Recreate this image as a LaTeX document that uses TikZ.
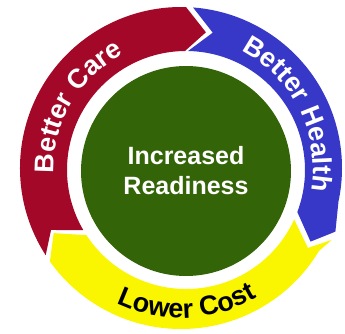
\documentclass[tikz,border=0pt]{standalone}
\usepackage{fontspec}
\setmainfont{Liberation Sans}
\usetikzlibrary{calc,decorations.text}
\definecolor{carered}{RGB}{163,8,40}
\definecolor{healthblue}{RGB}{55,55,200}
\definecolor{costyellow}{RGB}{250,245,0}
\definecolor{readygreen}{RGB}{52,100,8}
\newcommand\ringfont{\bfseries\fontsize{27}{27}\selectfont}

\begin{document}
\begin{tikzpicture}[x=1pt,y=1pt,
	arclabel/.style 2 args={decorate,decoration={text along path,text align=center,
		text color=#1,text={|\ringfont|#2}}}]
\useasboundingbox (0,0) rectangle (345,333);
\coordinate (O) at (181,165);
\coordinate (I) at (186,163);

	\fill[carered] ($(O)+(212.8:161)$) arc[start angle=212.8,end angle=88.2,radius=161]
		-- ($(O)+(79.6:138)$) -- ($(I)+(90.5:119)$)
		arc[start angle=90.5,end angle=210.3,radius=119]
		-- ($(O)+(205.5:144)$) -- cycle;

	\fill[healthblue] ($(O)+(85.7:161)$) arc[start angle=85.7,end angle=-12,radius=161]
		-- ($(O)+(-22.4:167)$) -- ($(O)+(-29.6:149)$) -- ($(I)+(-20.7:119)$)
		arc[start angle=-20.7,end angle=89,radius=119]
		-- ($(O)+(76.8:139)$) -- cycle;

	\fill[costyellow] ($(O)+(-25.5:167)$) -- ($(O)+(-31:161)$)
		arc[start angle=-31,end angle=-144.5,radius=161]
		-- ($(O)+(-152.9:143)$) -- ($(I)+(-146.8:119)$)
		arc[start angle=-146.8,end angle=-24.6,radius=119]
		-- ($(O)+(-32.2:150)$) -- cycle;

\node[circle,fill=readygreen,minimum size=210pt,inner sep=0pt,text=white,align=center,
	font=\bfseries\fontsize{25}{30}\selectfont] (ready) at (186,162) {Increased\\Readiness};

\path[arclabel={white}{Better Care}] ($(O)+(195:127)$) arc[start angle=195,end angle=104,radius=127];
\path[arclabel={white}{Better Health}] ($(O)+(72:132)$) arc[start angle=72,end angle=-19,radius=132];
\path[arclabel={black}{Lower Cost}] ($(O)+(227:150)$) arc[start angle=227,end angle=318,radius=150];
\end{tikzpicture}
\end{document}
